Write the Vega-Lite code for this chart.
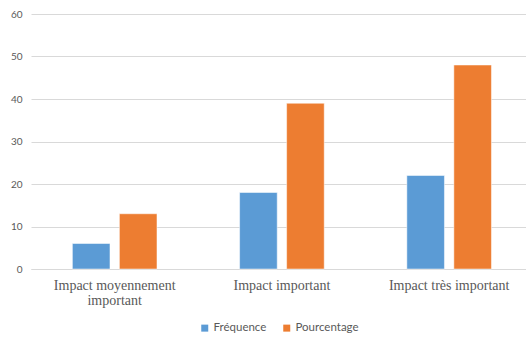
{
  "$schema": "https://vega.github.io/schema/vega-lite/v6.json",
  "autosize": "none",
  "width": 495,
  "height": 255,
  "padding": {"left": 31, "top": 14, "right": 0, "bottom": 68},
  "background": "white",
  "data": {
    "values": [
      {"impact": "Impact moyennement important", "serie": "Fréquence", "valeur": 6},
      {"impact": "Impact moyennement important", "serie": "Pourcentage", "valeur": 13},
      {"impact": "Impact important", "serie": "Fréquence", "valeur": 18},
      {"impact": "Impact important", "serie": "Pourcentage", "valeur": 39},
      {"impact": "Impact très important", "serie": "Fréquence", "valeur": 22},
      {"impact": "Impact très important", "serie": "Pourcentage", "valeur": 48}
    ]
  },
  "mark": {"type": "bar", "stroke": "white", "strokeWidth": 0.5},
  "encoding": {
    "x": {
      "field": "impact",
      "type": "nominal",
      "sort": null,
      "title": null,
      "scale": {"paddingInner": 0.494, "paddingOuter": 0.227, "align": 0.545},
      "axis": {
        "labelAngle": 0,
        "labelFont": "Liberation Serif",
        "labelFontSize": 14,
        "labelColor": "#595959",
        "labelPadding": 9,
        "labelLineHeight": 15,
        "labelLimit": 0,
        "ticks": false,
        "domain": true,
        "domainColor": "#d9d9d9",
        "domainWidth": 1,
        "labelExpr": "datum.label == 'Impact moyennement important' ? ['Impact moyennement', 'important'] : datum.label"
      }
    },
    "xOffset": {
      "field": "serie",
      "type": "nominal",
      "scale": {"paddingInner": 0.2, "paddingOuter": 0}
    },
    "y": {
      "field": "valeur",
      "type": "quantitative",
      "title": null,
      "scale": {"domain": [0, 60], "nice": false},
      "axis": {
        "values": [0, 10, 20, 30, 40, 50, 60],
        "labelFont": "Lato",
        "labelFontSize": 10,
        "labelColor": "#595959",
        "labelPadding": 9,
        "ticks": false,
        "domain": false,
        "grid": true,
        "gridColor": "#d9d9d9",
        "gridWidth": 1
      }
    },
    "color": {
      "field": "serie",
      "type": "nominal",
      "title": null,
      "scale": {"domain": ["Fréquence", "Pourcentage"], "range": ["#5b9bd5", "#ed7d31"]},
      "legend": {
        "orient": "none",
        "direction": "horizontal",
        "legendX": 168,
        "legendY": 308,
        "symbolType": "square",
        "symbolSize": 49,
        "symbolStrokeWidth": 0,
        "labelFont": "Lato",
        "labelFontSize": 11.5,
        "labelColor": "#595959",
        "labelOffset": 3,
        "columnPadding": 14
      }
    }
  },
  "config": {
    "view": {"stroke": null},
    "axis": {"gridOpacity": 1}
  }
}
